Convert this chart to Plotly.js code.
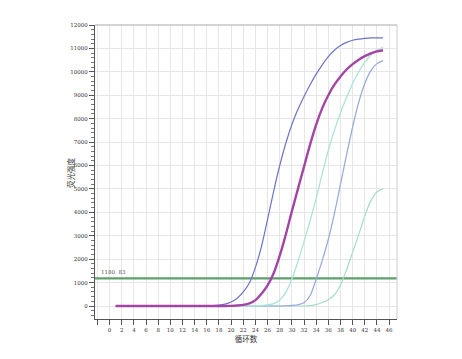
<!DOCTYPE html>
<html>
<head>
<meta charset="utf-8">
<script src="https://cdn.plot.ly/plotly-3.0.1.min.js"></script>
<style>html,body{margin:0;padding:0;background:#fff}#chart{width:462px;height:359px}</style>
</head>
<body>
<div id="chart"></div>
<script>
const cycles = [1,2,3,4,5,6,7,8,9,10,11,12,13,14,15,16,17,18,19,20,21,22,23,24,25,26,27,28,29,30,31,32,33,34,35,36,37,38,39,40,41,42,43,44,45];
const seriesBlue    = [0,0,0,0,0,0,0,0,0,0,0,0,0,0,0,5,15,35,80,170,330,600,980,1650,2550,3700,4900,6000,6950,7750,8400,8950,9450,9900,10300,10650,10920,11120,11260,11350,11400,11430,11450,11450,11450];
const seriesMagenta = [0,0,0,0,0,0,0,0,0,0,0,0,0,0,0,0,0,0,0,5,20,50,110,250,520,880,1400,2150,3050,4050,5000,5950,6900,7750,8450,9000,9450,9800,10100,10330,10520,10670,10790,10870,10920];
const seriesTeal    = [0,0,0,0,0,0,0,0,0,0,0,0,0,0,0,0,0,0,0,0,0,0,0,5,20,45,100,250,580,1150,1900,2750,3650,4600,5650,6650,7500,8250,8900,9500,10000,10400,10720,10930,11050];
const seriesLtBlue  = [0,0,0,0,0,0,0,0,0,0,0,0,0,0,0,0,0,0,0,0,0,0,0,0,0,0,0,0,10,25,55,140,450,1150,1950,2850,3950,5200,6450,7650,8700,9500,10050,10350,10480];
const seriesTeal2   = [0,0,0,0,0,0,0,0,0,0,0,0,0,0,0,0,0,0,0,0,0,0,0,0,0,0,0,0,0,0,0,0,20,60,150,270,480,900,1550,2300,3050,3850,4500,4870,5000];
const threshold = 1180.83;
const thresholdLabel = "1180. 83";
const xTickVals = [-2,0,2,4,6,8,10,12,14,16,18,20,22,24,26,28,30,32,34,36,38,40,42,44,46];
const xTickText = ["","0","2","4","6","8","10","12","14","16","18","20","22","24","26","28","30","32","34","36","38","40","42","44","46"];
const yTickVals = [0,1000,2000,3000,4000,5000,6000,7000,8000,9000,10000,11000,12000];
const yTickText = ["0","1000","2000","3000","4000","5000","6000","7000","8000","9000","10000","11000","12000"];
const xTitle = "循环数";
const yTitle = "荧光强度";

const mk = (y, color, w) => ({x: cycles, y: y, type: 'scatter', mode: 'lines', line: {color: color, width: w, shape: 'spline', smoothing: 0.8}, hoverinfo: 'skip', showlegend: false});

const traces = [
  {x: [-2.4, 47.3], y: [threshold, threshold], type: 'scatter', mode: 'lines', line: {color: '#5e9f6c', width: 2.2}, hoverinfo: 'skip', showlegend: false},
  mk(seriesTeal2, '#a3dcc9', 1.2),
  mk(seriesLtBlue, '#95a8dc', 1.2),
  mk(seriesTeal, '#ace3da', 1.3),
  mk(seriesBlue, '#6d74c6', 1.2),
  mk(seriesMagenta, '#a445a6', 2.4)
];

const tickFont = {family: 'DejaVu Serif, Liberation Serif, serif', size: 5.5, color: '#333'};

const layout = {
  width: 462, height: 359,
  margin: {l: 95, r: 65, t: 25, b: 40},
  paper_bgcolor: '#fff', plot_bgcolor: '#fff',
  showlegend: false,
  xaxis: {
    range: [-2.4, 47.3], tickvals: xTickVals, ticktext: xTickText,
    showgrid: true, gridcolor: '#e6e6e6', gridwidth: 1,
    zeroline: false, showline: true, linecolor: '#555', linewidth: 1.2, mirror: false,
    ticks: 'outside', ticklen: 5, tickcolor: '#555', tickwidth: 1,
    tickfont: tickFont,
    title: {text: xTitle, font: {family: 'Noto Sans CJK SC', size: 7.5, color: '#333'}, standoff: 1}
  },
  yaxis: {
    range: [-555, 12000], tickvals: yTickVals, ticktext: yTickText,
    showgrid: true, gridcolor: '#e6e6e6', gridwidth: 1,
    zeroline: false, showline: true, linecolor: '#555', linewidth: 1.2,
    ticks: 'outside', ticklen: 5, tickcolor: '#555', tickwidth: 1,
    minor: {dtick: 200, tick0: 0, ticks: 'outside', ticklen: 2.5, tickcolor: '#777', showgrid: false},
    tickfont: tickFont
  },
  shapes: [
    {type: 'line', xref: 'paper', yref: 'paper', x0: 0, x1: 1, y0: 1, y1: 1, line: {color: '#aaa', width: 1.2}},
    {type: 'line', xref: 'paper', yref: 'paper', x0: 1, x1: 1, y0: 0, y1: 1, line: {color: '#ccc', width: 1}}
  ],
  annotations: [
    {x: -2.4, y: threshold, xref: 'x', yref: 'y', text: thresholdLabel, showarrow: false, xanchor: 'left', yanchor: 'bottom', xshift: 4, yshift: 1,
     font: {family: 'DejaVu Serif, Liberation Serif, serif', size: 5.5, color: '#555'}},
    {x: -0.083, y: 0.5, xref: 'paper', yref: 'paper', text: yTitle, showarrow: false, textangle: -90, xanchor: 'center', yanchor: 'middle',
     font: {family: 'Noto Sans CJK SC', size: 7.5, color: '#333'}}
  ]
};

Plotly.newPlot('chart', traces, layout, {staticPlot: true, displayModeBar: false});
</script>
</body>
</html>
